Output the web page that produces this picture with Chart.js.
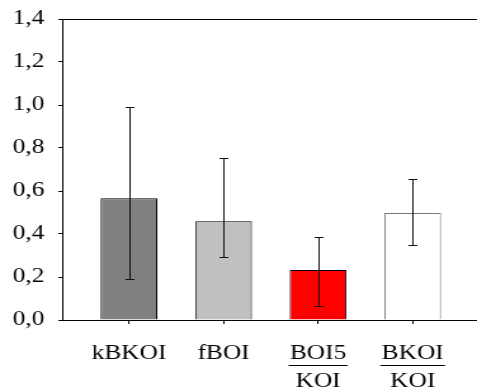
<!DOCTYPE html>
<html><head><meta charset="utf-8">
<script src="https://cdn.jsdelivr.net/npm/chart.js@4/dist/chart.umd.min.js"></script>
<style>
html,body{margin:0;padding:0;background:#fff;overflow:hidden;}
#c{display:block;width:477px !important;height:392px !important;}
</style></head><body>
<canvas id="c" width="376" height="392"></canvas>
<script>
const categories = [['kBKOI'], ['fBOI'], ['BOI5', 'KOI'], ['BKOI', 'KOI']];
const isFraction = [false, false, true, true];
const means = [0.566, 0.459, 0.233, 0.498];
const errLow = [0.189, 0.294, 0.065, 0.349];
const errHigh = [0.992, 0.755, 0.386, 0.656];
const yTickValues = [0, 0.2, 0.4, 0.6, 0.8, 1.0, 1.2, 1.4];
const barColors = ['#808080', '#c0c0c0', '#ff0000', '#ffffff'];
const barBorders = ['#000000', '#000000', '#000000', '#777777'];

const FONT = "'Liberation Serif','Times New Roman',serif";
const X_TICK_LEN = 4, X_PAD = 15.5, X_LINE_H = 28;

const errorBars = {
  id: 'errorBars',
  afterDatasetsDraw(chart) {
    const ctx = chart.ctx, y = chart.scales.y;
    const meta = chart.getDatasetMeta(0);
    ctx.save();
    ctx.strokeStyle = '#111';
    ctx.lineWidth = 1;
    meta.data.forEach((bar, i) => {
      const x = Math.round(bar.x) + 0.5;
      const yh = Math.round(y.getPixelForValue(errHigh[i])) + 0.5;
      const yl = Math.round(y.getPixelForValue(errLow[i])) + 0.5;
      ctx.beginPath();
      ctx.moveTo(x, yh); ctx.lineTo(x, yl);
      ctx.moveTo(x - 3.5, yh); ctx.lineTo(x + 3.5, yh);
      ctx.moveTo(x - 3.5, yl); ctx.lineTo(x + 3.5, yl);
      ctx.stroke();
    });
    ctx.restore();
  }
};

const frame = {
  id: 'frame',
  afterDraw(chart) {
    const ctx = chart.ctx, a = chart.chartArea, xs = chart.scales.x;
    ctx.save();
    ctx.strokeStyle = '#000';
    ctx.lineWidth = 1;
    ctx.beginPath();
    ctx.moveTo(a.left, Math.round(a.top) + 0.5);
    ctx.lineTo(chart.width, Math.round(a.top) + 0.5);
    ctx.stroke();
    ctx.font = '20px ' + FONT;
    const firstMid = xs.top + X_TICK_LEN + X_PAD + X_LINE_H / 2;
    const ly = Math.round(firstMid + 11) + 0.5;
    categories.forEach((lab, i) => {
      if (!isFraction[i]) return;
      const cx = xs.getPixelForValue(i);
      const w = ctx.measureText(lab[0]).width + 2;
      ctx.beginPath();
      ctx.moveTo(cx - w / 2, ly); ctx.lineTo(cx + w / 2, ly);
      ctx.stroke();
    });
    ctx.restore();
  }
};

new Chart(document.getElementById('c'), {
  type: 'bar',
  data: {
    datasets: [{
      data: means.map((v, i) => ({ x: i, y: v })),
      backgroundColor: barColors,
      borderColor: barBorders,
      borderWidth: 1,
      categoryPercentage: 1,
      barPercentage: 0.6
    }]
  },
  options: {
    responsive: false,
    animation: false,
    devicePixelRatio: 1,
    layout: { padding: { top: 19, right: 0, left: 0, bottom: 0 } },
    plugins: { legend: { display: false }, tooltip: { enabled: false } },
    scales: {
      x: {
        type: 'linear',
        offset: false,
        min: -0.706,
        max: 3.68,
        afterBuildTicks(scale) { scale.ticks = categories.map((c, i) => ({ value: i })); },
        afterFit(scale) { scale.height = 72; scale.paddingLeft = 0; scale.paddingRight = 0; },
        grid: { offset: false, drawOnChartArea: false, drawTicks: true, tickLength: X_TICK_LEN, color: '#000' },
        border: { display: true, color: '#000', width: 1 },
        ticks: {
          color: '#000',
          padding: X_PAD,
          maxRotation: 0,
          autoSkip: false,
          font: { family: FONT, size: 20, lineHeight: X_LINE_H / 20 },
          callback: (v) => categories[Math.round(v)]
        }
      },
      y: {
        min: 0,
        max: 1.4,
        afterBuildTicks(scale) { scale.ticks = yTickValues.map(v => ({ value: v })); },
        afterFit(scale) { scale.width = 49; scale.paddingTop = 0; scale.paddingBottom = 0; },
        grid: { drawOnChartArea: false, drawTicks: true, tickLength: 3, color: '#000' },
        border: { display: true, color: '#000', width: 1 },
        ticks: {
          color: '#000',
          padding: 11,
          font: { family: FONT, size: 20 },
          callback: (v) => v.toFixed(1).replace('.', ',')
        }
      }
    }
  },
  plugins: [errorBars, frame]
});
</script>
</body></html>
